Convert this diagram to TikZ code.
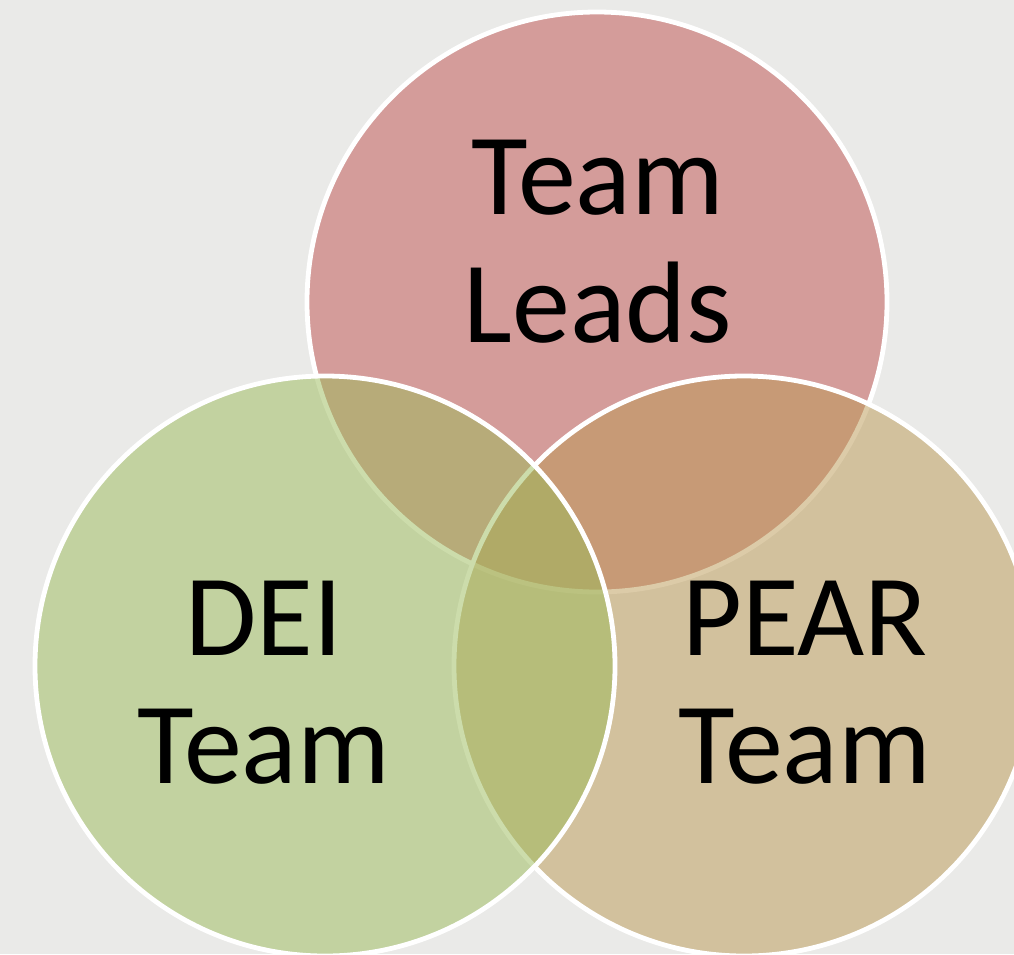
\documentclass[tikz,border=0pt]{standalone}
\usepackage{fontspec}
\setmainfont{Carlito}
\definecolor{bgc}{RGB}{234,234,232}
\definecolor{redc}{RGB}{192,80,77}
\definecolor{greenc}{RGB}{155,187,89}
\definecolor{tanc}{RGB}{187,153,83}
\tikzset{
  vennfill/.style={fill=#1, fill opacity=0.5},
  vennline/.style={draw=white, line width=3.6pt},
  lbl/.style={font=\fontsize{87}{96}\selectfont, align=center, inner sep=0pt, anchor=base, text=black}
}
\begin{document}
\begin{tikzpicture}[x=0.75pt,y=-0.75pt]
\fill[bgc] (0,0) rectangle (1014,954);
\useasboundingbox (0,0) rectangle (1014,954);
\clip (0,0) rectangle (1014,954);
\fill[vennfill=redc] (597,302) circle[radius=290];
\draw[vennline] (597,302) circle[radius=290];
\fill[vennfill=tanc] (744,666) circle[radius=290];
\draw[vennline] (744,666) circle[radius=290];
\fill[vennfill=greenc] (325,666) circle[radius=290];
\draw[vennline] (325,666) circle[radius=290];
\node[lbl] (leads) at (598,342) {Team\\Leads};
\node[lbl] (dei) at (264,783) {DEI\\Team};
\node[lbl] (pear) at (805,783) {PEAR\\Team};
\end{tikzpicture}
\end{document}
